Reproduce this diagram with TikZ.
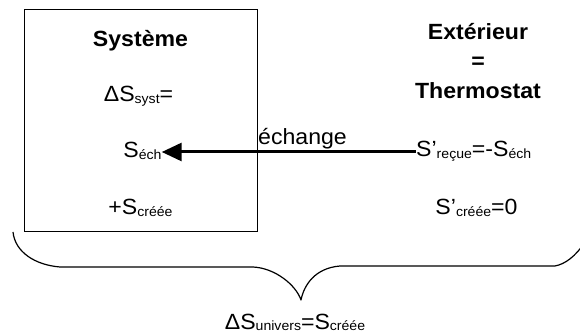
\documentclass[tikz,border=0pt]{standalone}
\usepackage{fontspec}
\setmainfont[FakeStretch=1.05]{Liberation Sans}
\usetikzlibrary{arrows.meta}
\newcommand{\sbs}[1]{\raisebox{-1.5pt}{\fontsize{13.4}{14}\selectfont #1}}
\begin{document}
\begin{tikzpicture}[x=1pt,y=-1pt,
  txt/.style={inner sep=0pt, font=\fontsize{22}{26}\selectfont},
  ttl/.style={inner sep=0pt, font=\fontsize{22}{26}\selectfont\bfseries},
  flow/.style={line width=3pt, -{Triangle[length=20pt,width=18pt]}},
  bracestyle/.style={line width=1.2pt, line join=round}]
\useasboundingbox (0,0) rectangle (580,336);
\node[draw, line width=1pt, minimum width=233pt, minimum height=222pt, inner sep=0pt] (sys) at (140.5,121) {};
\node[ttl, anchor=base] (tsys) at (140.5,47) {Système};
\node[txt, anchor=base] (dsys) at (138.5,102) {ΔS\sbs{syst}=};
\node[txt, anchor=base] (sech) at (142.5,158) {S\sbs{éch}};
\node[txt, anchor=base] (scree) at (140.5,215) {+S\sbs{créée}};
\node[ttl, anchor=base] (ext) at (478,40) {Extérieur};
\node[ttl, anchor=base] (eq) at (478,69) {=};
\node[ttl, anchor=base] (thermo) at (478,99) {Thermostat};
\node[txt, anchor=base west] (srecue) at (416,157) {S’\sbs{reçue}=-S\sbs{éch}};
\node[txt, anchor=base] (scree2) at (476.5,215) {S’\sbs{créée}=0};
\node[txt, anchor=base west] (ech) at (258,145) {échange};
\coordinate (ay) at (0,152);
\draw[flow] (srecue.west |- ay) -- (sech.east |- ay);
\draw[bracestyle] (13,232) .. controls (15,252) and (35,265) .. (60,267)
  -- (253,267) .. controls (275,268) and (296,285) .. (301,300)
  .. controls (304,285) and (315,268) .. (340,266)
  -- (555,266) .. controls (565,264) and (575,257) .. (585,242);
\node[txt, anchor=base] (univ) at (295,329) {ΔS\sbs{univers}=S\sbs{créée}};
\end{tikzpicture}
\end{document}
